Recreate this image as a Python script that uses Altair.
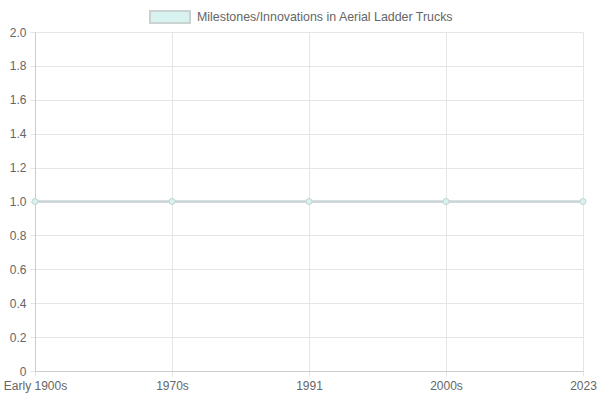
import altair as alt
import pandas as pd

periods = ["Early 1900s", "1970s", "1991", "2000s", "2023"]
values = [1, 1, 1, 1, 1]
series = "Milestones/Innovations in Aerial Ladder Trucks"

df = pd.DataFrame({"period": periods, "value": values, "series": [series] * len(periods)})

line_color = "#cad6d5"
fill_color = "#d8f3ef"

color = alt.Color(
    "series:N",
    scale=alt.Scale(domain=[series], range=[fill_color]),
    legend=alt.Legend(
        title=None,
        orient="none",
        legendX=114,
        legendY=-36,
        symbolType="M-1,-0.3H1V0.3H-1Z",
        symbolSize=1600,
        symbolStrokeColor="#cbd2d2",
        symbolStrokeWidth=2,
        symbolFillColor=fill_color,
        symbolOpacity=1,
        labelFont="Liberation Sans",
        labelFontSize=12.4,
        labelColor="#666666",
        labelLimit=400,
        labelOffset=6,
    ),
)

x = alt.X(
    "period:N",
    sort=periods,
    scale=alt.Scale(paddingInner=1, paddingOuter=0, padding=0),
    axis=alt.Axis(
        title=None,
        labelAngle=0,
        grid=True,
        labelFont="Liberation Sans",
        labelFontSize=12,
        labelColor="#666666",
        labelPadding=4,
        tickSize=5,
        tickColor="#e5e5e5",
        domainColor="#cccccc",
        gridColor="#e5e5e5",
        labelAlign="center",
    ),
)

y = alt.Y(
    "value:Q",
    scale=alt.Scale(domain=[0, 2], nice=False),
    axis=alt.Axis(
        title=None,
        values=[0, 0.2, 0.4, 0.6, 0.8, 1.0, 1.2, 1.4, 1.6, 1.8, 2.0],
        labelExpr="datum.value == 0 ? '0' : format(datum.value, '.1f')",
        labelFont="Liberation Sans",
        labelFontSize=12,
        labelColor="#666666",
        labelPadding=4,
        tickSize=5,
        tickColor="#e5e5e5",
        domainColor="#cccccc",
        gridColor="#e5e5e5",
    ),
)

base = alt.Chart(df).encode(x=x, y=y)

line = base.mark_line(color=line_color, strokeWidth=2.5).encode(detail="series:N")
points = base.mark_point(filled=True, size=36, stroke="#c3d3d1", strokeWidth=1, opacity=1).encode(color=color)

chart = (
    alt.layer(line, points)
    .properties(
        width=548,
        height=339,
        autosize=alt.AutoSizeParams(type="none"),
        padding={"left": 35, "top": 32, "right": 17, "bottom": 29},
    )
    .configure_view(stroke=None)
    .configure_axis(domainWidth=1, gridWidth=1)
)

chart.save("out.html", embed_options={"renderer": "svg", "actions": False})
